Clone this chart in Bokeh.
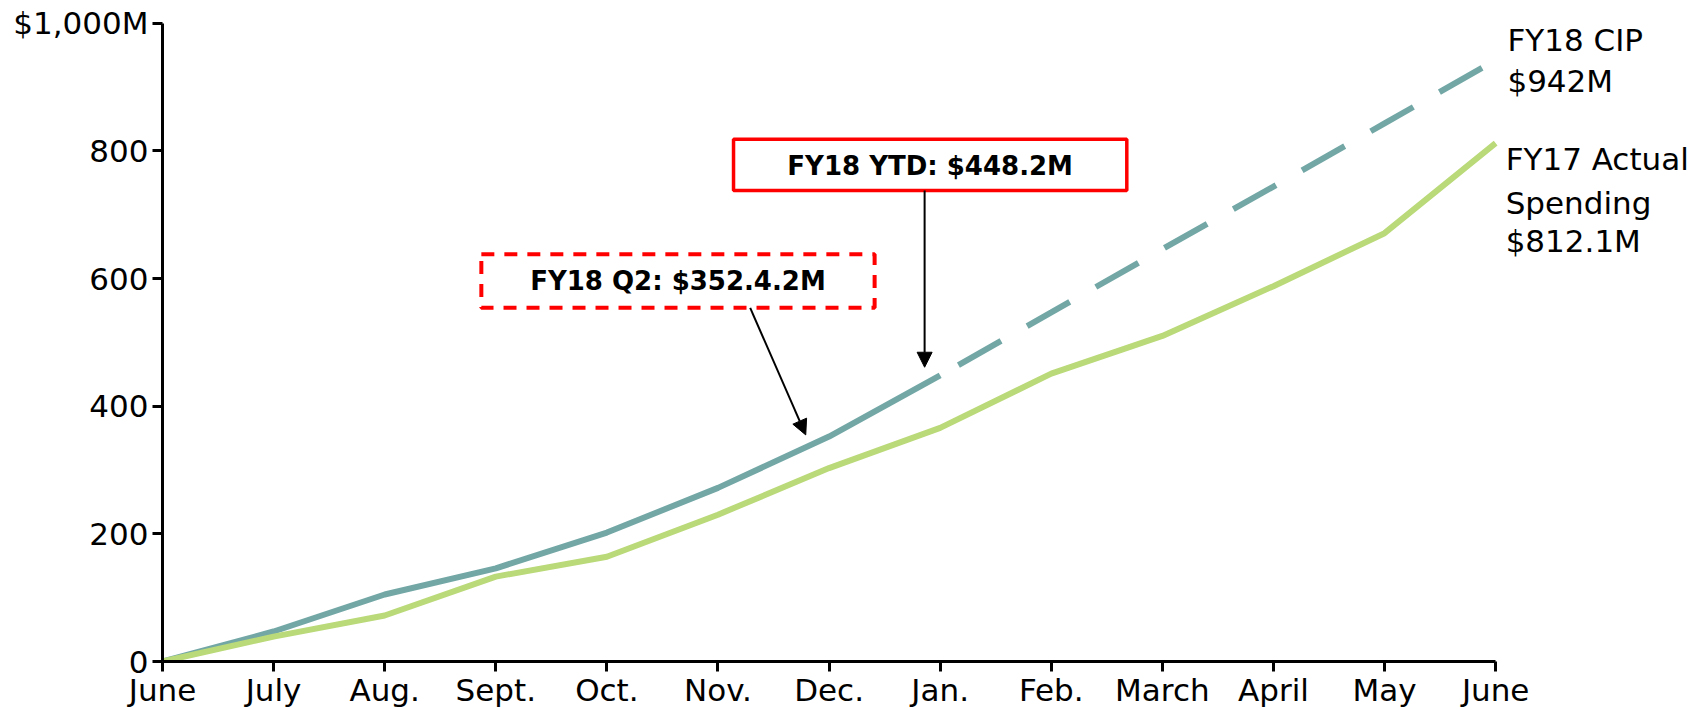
from bokeh.plotting import figure
from bokeh.models import Range1d, FixedTicker, Label, Arrow, NormalHead, BoxAnnotation
from bokeh.embed import file_html
from bokeh.resources import INLINE

# ---------------- data ----------------
months = ["June", "July", "Aug.", "Sept.", "Oct.", "Nov.", "Dec.",
          "Jan.", "Feb.", "March", "April", "May", "June"]
month_idx = list(range(len(months)))

fy17_actual = [0, 39, 72, 133, 164, 230, 303, 366, 451, 510, 588, 671, 812.1]
fy18_cip_ytd = [0, 47, 105, 146, 202, 272, 352.4, 448.2]          # June .. Jan.
fy18_cip_plan = [448.2, 547, 646, 744, 843, 942]                  # Jan. .. June

y_ticks = [0, 200, 400, 600, 800, 1000]
y_tick_labels = ["0", "200", "400", "600", "800", "$1,000M"]

# ---------------- style ----------------
FONT = "DejaVu Sans"
TEAL = "#72A7A6"
GREEN = "#BAD978"
RED = "#FF0000"

p = figure(width=1694, height=710,
           x_range=Range1d(0, 13.79), y_range=Range1d(0, 1027.7),
           output_backend="svg", toolbar_location=None,
           min_border_left=162, min_border_right=0,
           min_border_top=5, min_border_bottom=48)
p.outline_line_color = None
p.grid.visible = False
p.background_fill_color = "white"

# lines
p.line(month_idx[:len(fy18_cip_ytd)], fy18_cip_ytd, line_color=TEAL, line_width=6)
p.line(month_idx[len(fy18_cip_ytd) - 1:], fy18_cip_plan, line_color=TEAL, line_width=6,
       line_dash="49 30", line_dash_offset=58)
p.line(month_idx, fy17_actual, line_color=GREEN, line_width=6)

# axes
xa = p.xaxis[0]
xa.ticker = FixedTicker(ticks=month_idx)
xa.major_label_overrides = {i: m for i, m in enumerate(months)}
xa.bounds = (0, 12)
ya = p.yaxis[0]
ya.ticker = FixedTicker(ticks=y_ticks)
ya.major_label_overrides = {t: l for t, l in zip(y_ticks, y_tick_labels)}
ya.bounds = (0, 1000)
for ax in (xa, ya):
    ax.axis_line_width = 3
    ax.axis_line_color = "black"
    ax.major_tick_line_width = 3
    ax.major_tick_line_color = "black"
    ax.major_tick_out = 10
    ax.major_tick_in = 0
    ax.minor_tick_line_color = None
    ax.major_label_text_font = FONT
    ax.major_label_text_font_size = "31px"
    ax.major_label_text_color = "black"
xa.major_label_standoff = 0
ya.major_label_standoff = 4

# series end labels
end_labels = [
    (12.106, 973, "FY18 CIP"),
    (12.106, 909, "$942M"),
    (12.09, 787, "FY17 Actual"),
    (12.09, 719, "Spending"),
    (12.09, 658, "$812.1M"),
]
for x, y, t in end_labels:
    p.add_layout(Label(x=x, y=y, text=t, text_font=FONT, text_font_size="31px",
                       text_baseline="alphabetic", text_align="left", text_color="black"))

# callout boxes
p.add_layout(BoxAnnotation(left=5.14, right=8.68, bottom=738, top=818,
                           fill_alpha=0, fill_color=None,
                           line_color=RED, line_alpha=1.0, line_width=3.5))
p.add_layout(Label(x=6.91, y=777, text="FY18 YTD: $448.2M", text_font=FONT,
                   text_font_size="26px", text_font_style="bold",
                   text_align="center", text_baseline="middle", text_color="black"))
p.add_layout(BoxAnnotation(left=2.87, right=6.41, bottom=554, top=638,
                           fill_alpha=0, fill_color=None,
                           line_color=RED, line_alpha=1.0, line_width=4, line_dash="13 10"))
p.add_layout(Label(x=4.64, y=596, text="FY18 Q2: $352.4.2M", text_font=FONT,
                   text_font_size="26px", text_font_style="bold",
                   text_align="center", text_baseline="middle", text_color="black"))

# arrows
p.add_layout(Arrow(end=NormalHead(size=15, fill_color="black", line_color="black"),
                   x_start=6.86, y_start=738, x_end=6.86, y_end=461,
                   line_color="black", line_width=2))
p.add_layout(Arrow(end=NormalHead(size=15, fill_color="black", line_color="black"),
                   x_start=5.29, y_start=554, x_end=5.79, y_end=355,
                   line_color="black", line_width=2))

open("out.html", "w").write(file_html(p, INLINE))
